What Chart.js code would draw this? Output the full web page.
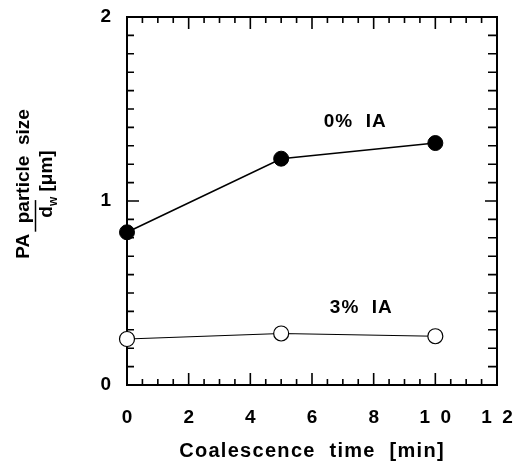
<!DOCTYPE html>
<html>
<head>
<meta charset="utf-8">
<script src="https://cdn.jsdelivr.net/npm/chart.js@4.4.1/dist/chart.umd.min.js"></script>
<style>
  body { margin: 0; background: #fff; }
  canvas { display: block; }
</style>
</head>
<body>
<canvas id="chart" width="526" height="469"></canvas>
<script>
// Coalescence time [min]
const times = [0, 5, 10];
// PA particle size dw [um]
const ia0 = [0.83, 1.23, 1.315];
const ia3 = [0.25, 0.28, 0.265];
const seriesNames = ['0%  IA', '3%  IA'];
const xTitle = 'Coalescence  time  [min]';
// where the series names sit, in data units
const namePos = [{ x: 7.4, y: 1.43 }, { x: 7.6, y: 0.42 }];

const FONT = '"Liberation Sans", Arial, sans-serif';

// frame, inward ticks on all four sides, series names, axis titles
const framePlugin = {
    id: 'frame',
    beforeDatasetsDraw(chart) {
        const { ctx, chartArea: a, scales: { x, y } } = chart;
        ctx.save();
        ctx.strokeStyle = '#000';
        ctx.lineWidth = 2;
        ctx.strokeRect(a.left, a.top, a.right - a.left, a.bottom - a.top);

        ctx.lineWidth = 1.6;
        ctx.beginPath();
        for (let i = 0; i <= 24; i++) {
            const v = i * 0.5;
            const px = x.getPixelForValue(v);
            const len = (i % 4 === 0) ? 12 : 6;
            ctx.moveTo(px, a.bottom); ctx.lineTo(px, a.bottom - len);
            ctx.moveTo(px, a.top); ctx.lineTo(px, a.top + len);
        }
        for (let i = 0; i <= 20; i++) {
            const v = i * 0.1;
            const py = y.getPixelForValue(v);
            const major = i % 10 === 0;
            ctx.moveTo(a.left, py); ctx.lineTo(a.left + (major ? 12 : 7), py);
            ctx.moveTo(a.right, py); ctx.lineTo(a.right - (major ? 12 : 9), py);
        }
        ctx.stroke();
        ctx.restore();
    },
    afterDraw(chart) {
        const { ctx, chartArea: a, scales: { x, y } } = chart;
        ctx.save();
        ctx.fillStyle = '#000';
        ctx.textAlign = 'center';
        ctx.textBaseline = 'middle';
        ctx.letterSpacing = '1px';
        ctx.font = 'bold 19px ' + FONT;
        seriesNames.forEach((n, i) => {
            ctx.fillText(n, x.getPixelForValue(namePos[i].x), y.getPixelForValue(namePos[i].y));
        });

        ctx.letterSpacing = '1.3px';
        ctx.font = 'bold 20px ' + FONT;
        ctx.fillText(xTitle, (a.left + a.right) / 2, 451);

        // y axis title, two lines, rotated
        ctx.letterSpacing = '0px';
        ctx.translate(0, 184);
        ctx.rotate(-Math.PI / 2);
        ctx.font = 'bold 19px ' + FONT;
        ctx.fillText('PA  particle  size', 0, 24);
        const d = 'd', w = 'w', unit = ' [\u03bcm]';
        const dw = ctx.measureText(d).width;
        const uw = ctx.measureText(unit).width;
        ctx.font = 'bold 12px ' + FONT;
        const ww = ctx.measureText(w).width;
        const total = dw + ww + uw;
        let sx = -total / 2;
        ctx.textAlign = 'left';
        ctx.font = 'bold 19px ' + FONT;
        ctx.fillText(d, sx, 47);
        ctx.lineWidth = 1.5;
        ctx.beginPath();
        ctx.moveTo(sx - 14, 35.5); ctx.lineTo(sx + dw + 6, 35.5);
        ctx.stroke();
        sx += dw;
        ctx.font = 'bold 12px ' + FONT;
        ctx.fillText(w, sx, 54);
        sx += ww;
        ctx.font = 'bold 19px ' + FONT;
        ctx.fillText(unit, sx, 47);
        ctx.restore();
    }
};

new Chart(document.getElementById('chart'), {
    type: 'scatter',
    data: {
        datasets: [
            {
                label: seriesNames[0],
                data: times.map((t, i) => ({ x: t, y: ia0[i] })),
                showLine: true,
                borderColor: '#000',
                borderWidth: 1.6,
                backgroundColor: '#000',
                pointRadius: 7.5,
                pointBorderWidth: 1,
                clip: false
            },
            {
                label: seriesNames[1],
                data: times.map((t, i) => ({ x: t, y: ia3[i] })),
                showLine: true,
                borderColor: '#000',
                borderWidth: 1.2,
                backgroundColor: '#fff',
                pointRadius: 7.5,
                pointBorderWidth: 1.2,
                clip: false
            }
        ]
    },
    options: {
        responsive: false,
        animation: false,
        layout: { padding: { left: 0, top: 17, right: 29, bottom: 0 } },
        plugins: {
            legend: { display: false },
            tooltip: { enabled: false }
        },
        scales: {
            x: {
                type: 'linear',
                min: 0,
                max: 12,
                afterFit: s => {
                    s.height = 84;
                    s.paddingLeft = 0;
                    s.paddingRight = 0;
                },
                grid: { display: false, drawTicks: false },
                border: { display: false },
                ticks: {
                    stepSize: 2,
                    padding: 21,
                    color: '#000',
                    font: { family: FONT, size: 19, weight: 'bold' },
                    callback: v => String(v).split('').join('  ')
                }
            },
            y: {
                min: 0,
                max: 2,
                afterFit: s => {
                    s.width = 127;
                    s.paddingTop = 0;
                    s.paddingBottom = 0;
                },
                grid: { display: false, drawTicks: false },
                border: { display: false },
                ticks: {
                    stepSize: 1,
                    padding: 16,
                    color: '#000',
                    font: { family: FONT, size: 19, weight: 'bold' }
                }
            }
        }
    },
    plugins: [framePlugin]
});
</script>
</body>
</html>
